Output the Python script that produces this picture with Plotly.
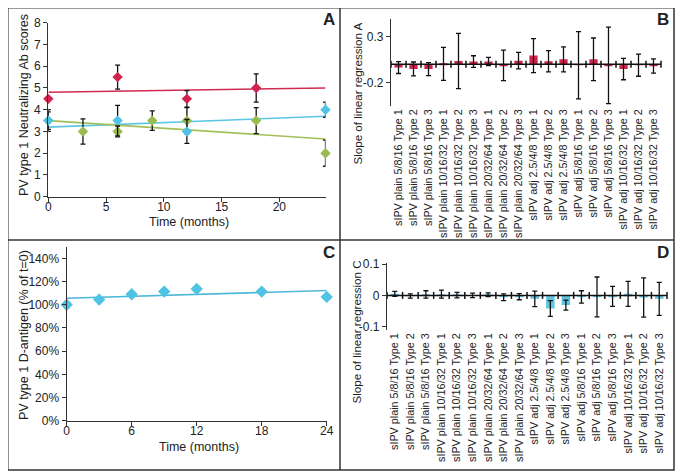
import plotly.graph_objects as go

# Page body has an 8px default margin, so the figure is laid out in page pixels minus OFF.
OFF = 8
PW, PH = 683, 474
W, H = PW - OFF, PH - OFF
FONT = "Liberation Sans, Arial, sans-serif"

# ---------------- Panel A data ----------------
a_red_x = [0, 6, 12, 18]
a_red_y = [4.5, 5.5, 4.5, 5.0]
a_red_err = [0.0, 0.55, 0.38, 0.65]
a_blue_x = [0, 6, 12, 24]
a_blue_y = [3.5, 3.5, 3.0, 4.0]
a_blue_err = [0.5, 0.7, 0.55, 0.35]
a_green_x = [0, 3, 6, 9, 12, 18, 24]
a_green_y = [3.5, 3.0, 3.0, 3.5, 3.5, 3.5, 2.0]
a_green_err = [0.4, 0.58, 0.25, 0.45, 0.6, 0.6, 0.6]
trend_x = [0, 24]
a_red_trend = [4.8, 5.0]
a_blue_trend = [3.2, 3.7]
a_green_trend = [3.5, 2.65]

# ---------------- Panel C data ----------------
c_x = [0, 3, 6, 9, 12, 18, 24]
c_y = [1.0, 1.044, 1.09, 1.113, 1.136, 1.113, 1.067]
c_trend = [1.056, 1.122]

# ---------------- Panels B / D data ----------------
categories = [
    "sIPV plain 5/8/16 Type 1", "sIPV plain 5/8/16 Type 2", "sIPV plain 5/8/16 Type 3",
    "sIPV plain 10/16/32 Type 1", "sIPV plain 10/16/32 Type 2", "sIPV plain 10/16/32 Type 3",
    "sIPV plain 20/32/64 Type 1", "sIPV plain 20/32/64 Type 2", "sIPV plain 20/32/64 Type 3",
    "sIPV adj 2.5/4/8 Type 1", "sIPV adj 2.5/4/8 Type 2", "sIPV adj 2.5/4/8 Type 3",
    "sIPV adj 5/8/16 Type 1", "sIPV adj 5/8/16 Type 2", "sIPV adj 5/8/16 Type 3",
    "sIPV adj 10/16/32 Type 1", "sIPV adj 10/16/32 Type 2", "sIPV adj 10/16/32 Type 3",
]
b_slope = [-0.035, -0.05, -0.052, 0.005, 0.035, 0.03, 0.03, -0.012, 0.04,
           0.095, 0.033, 0.054, -0.01, 0.054, -0.012, -0.052, -0.01, -0.018]
b_err = [0.065, 0.075, 0.07, 0.18, 0.30, 0.063, 0.045, 0.165, 0.09,
         0.185, 0.116, 0.136, 0.366, 0.232, 0.415, 0.116, 0.12, 0.078]
d_slope = [0.005, -0.002, 0.003, 0.004, 0.001, 0.0, 0.002, -0.006, -0.004,
           -0.011, -0.042, -0.031, -0.005, -0.005, -0.003, 0.005, -0.007, -0.011]
d_err = [0.008, 0.007, 0.012, 0.013, 0.009, 0.007, 0.006, 0.011, 0.01,
         0.025, 0.025, 0.016, 0.02, 0.064, 0.032, 0.04, 0.063, 0.053]

RED = "#d2234e"
BLUE = "#4fc3e3"
GREEN = "#9bbb4f"
DBLUE = "#5fc6e2"

idx = list(range(len(categories)))
bounds = [i - 0.5 for i in range(len(categories) + 1)]

fig = go.Figure()

def err(arr):
    return dict(type="data", array=arr, visible=True, color="#111", thickness=1.3, width=2.5)

# Panel A
for ty, col in [(a_red_trend, "#cf2a4f"), (a_blue_trend, "#5cc6e4"), (a_green_trend, "#a3bf5a")]:
    fig.add_trace(go.Scatter(x=trend_x, y=ty, mode="lines", line=dict(color=col, width=1.6),
                             xaxis="x", yaxis="y", showlegend=False, hoverinfo="skip"))
for xs, ys, es, col in [(a_green_x, a_green_y, a_green_err, GREEN),
                        (a_blue_x, a_blue_y, a_blue_err, BLUE),
                        (a_red_x, a_red_y, a_red_err, RED)]:
    fig.add_trace(go.Scatter(x=xs, y=ys, mode="markers", error_y=err(es),
                             marker=dict(symbol="diamond", size=8, color=col),
                             xaxis="x", yaxis="y", showlegend=False, cliponaxis=False))

# Panel C
fig.add_trace(go.Scatter(x=trend_x, y=c_trend, mode="lines", line=dict(color="#4db8d8", width=1.6),
                         xaxis="x3", yaxis="y3", showlegend=False))
fig.add_trace(go.Scatter(x=c_x, y=c_y, mode="markers", marker=dict(symbol="diamond", size=9.5, color=BLUE),
                         xaxis="x3", yaxis="y3", showlegend=False, cliponaxis=False))

# Panel B
fig.add_trace(go.Bar(x=idx, y=b_slope, width=0.55, marker=dict(color=RED, line=dict(width=0)),
                     error_y=err(b_err), xaxis="x2", yaxis="y2", showlegend=False))
fig.add_trace(go.Scatter(x=bounds, y=[0] * len(bounds), mode="markers",
                         marker=dict(symbol="line-ns", size=5, line=dict(width=1.5, color="#111")),
                         xaxis="x2", yaxis="y2", showlegend=False, cliponaxis=False))
# Panel D
fig.add_trace(go.Bar(x=idx, y=d_slope, width=0.55, marker=dict(color=DBLUE, line=dict(width=0)),
                     error_y=err(d_err), xaxis="x4", yaxis="y4", showlegend=False))
fig.add_trace(go.Scatter(x=bounds, y=[0] * len(bounds), mode="markers",
                         marker=dict(symbol="line-ns", size=5, line=dict(width=1.5, color="#111")),
                         xaxis="x4", yaxis="y4", showlegend=False, cliponaxis=False))

def px_x(a, b):
    return [(a - OFF) / W, (b - OFF) / W]

def px_y(top, bottom):
    return [1 - (bottom - OFF) / H, 1 - (top - OFF) / H]

axis_common = dict(showline=True, linecolor="#333", linewidth=1.3, ticks="outside", ticklen=4,
                   tickcolor="#333", tickwidth=1.2, showgrid=False, zeroline=False, automargin=False,
                   tickfont=dict(size=12, color="#222", family=FONT))
cat_axis = dict(range=[-0.5, 17.5], tickvals=idx, ticktext=categories, tickangle=-90, showline=False,
                ticks="", showgrid=False, zeroline=False, automargin=False,
                tickfont=dict(size=10.8, color="#222", family=FONT))

fig.update_layout(
    width=W, height=H, margin=dict(l=0, r=0, t=0, b=0, autoexpand=False),
    paper_bgcolor="white", plot_bgcolor="rgba(0,0,0,0)",
    font=dict(family=FONT, color="#222"),
    xaxis=dict(domain=px_x(48.3, 325.5), anchor="y", range=[0, 24], tickvals=[0, 5, 10, 15, 20],
               ticklabelstandoff=-5, **axis_common),
    yaxis=dict(domain=px_y(22.7, 196.7), anchor="x", range=[0, 8], tickvals=list(range(9)), **axis_common),
    xaxis3=dict(domain=px_x(66.7, 326.7), anchor="y3", range=[0, 24], tickvals=[0, 6, 12, 18, 24],
                ticklabelstandoff=-5, **axis_common),
    yaxis3=dict(domain=px_y(246.7, 420.7), anchor="x3", range=[0, 1.5],
                tickvals=[0, 0.2, 0.4, 0.6, 0.8, 1.0, 1.2, 1.4], tickformat=".0%", **axis_common),
    xaxis2=dict(domain=px_x(391, 661), anchor="y2", **cat_axis),
    yaxis2=dict(domain=px_y(19.3, 106), anchor="x2", range=[-0.453, 0.489], tickvals=[-0.2, 0.3],
                ticktext=["-0.2", "0.3"], **axis_common),
    xaxis4=dict(domain=px_x(387, 667), anchor="y4", **cat_axis),
    yaxis4=dict(domain=px_y(263.3, 330), anchor="x4", range=[-0.111, 0.103], tickvals=[-0.1, 0, 0.1],
                ticktext=["-0.1", "0", "0.1"], **axis_common),
)

def sx(p):
    return (p - OFF) / W

def sy(p):
    return 1 - (p - OFF) / H

fr = dict(color="#333", width=1.5)
L, R, T, B = 7.8, 674, 7.8, 470
shapes = [
    dict(type="rect", xref="paper", yref="paper", x0=sx(L), x1=sx(R), y0=sy(B), y1=sy(T), line=fr),
    dict(type="line", xref="paper", yref="paper", x0=sx(340), x1=sx(340), y0=sy(B), y1=sy(T), line=fr),
    dict(type="line", xref="paper", yref="paper", x0=sx(L), x1=sx(R), y0=sy(240), y1=sy(240), line=fr),
    dict(type="line", xref="x2 domain", yref="y2", x0=0, x1=1, y0=0, y1=0, line=dict(color="#111", width=1.5), layer="above"),
    dict(type="line", xref="x4 domain", yref="y4", x0=0, x1=1, y0=0, y1=0, line=dict(color="#111", width=1.5), layer="above"),
]
fig.update_layout(shapes=shapes)

def ann(text, x, y, size=12.5, angle=0, bold=False):
    return dict(text=f"<b>{text}</b>" if bold else text, x=sx(x), y=sy(y), xref="paper", yref="paper",
                showarrow=False, textangle=angle, xanchor="center", yanchor="middle",
                font=dict(size=size, color="#222", family=FONT))

fig.update_layout(annotations=[
    ann("PV type 1 Neutralizing Ab scores", 24, 105, angle=-90),
    ann("Time (months)", 189, 221.5, size=12.5),
    ann("PV type 1 D-antigen (% of t=0)", 24, 335, angle=-90),
    ann("Time (months)", 199, 446.5, size=12.5),
    ann("Slope of linear regression A", 356.5, 93, size=11.6, angle=-90),
    ann("Slope of linear regression C", 355.5, 332, size=11.6, angle=-90),
    ann("A", 329, 20, size=17, bold=True),
    ann("B", 663, 20, size=17, bold=True),
    ann("C", 329, 252, size=17, bold=True),
    ann("D", 663, 252, size=17, bold=True),
])

fig.write_html("out.html")
